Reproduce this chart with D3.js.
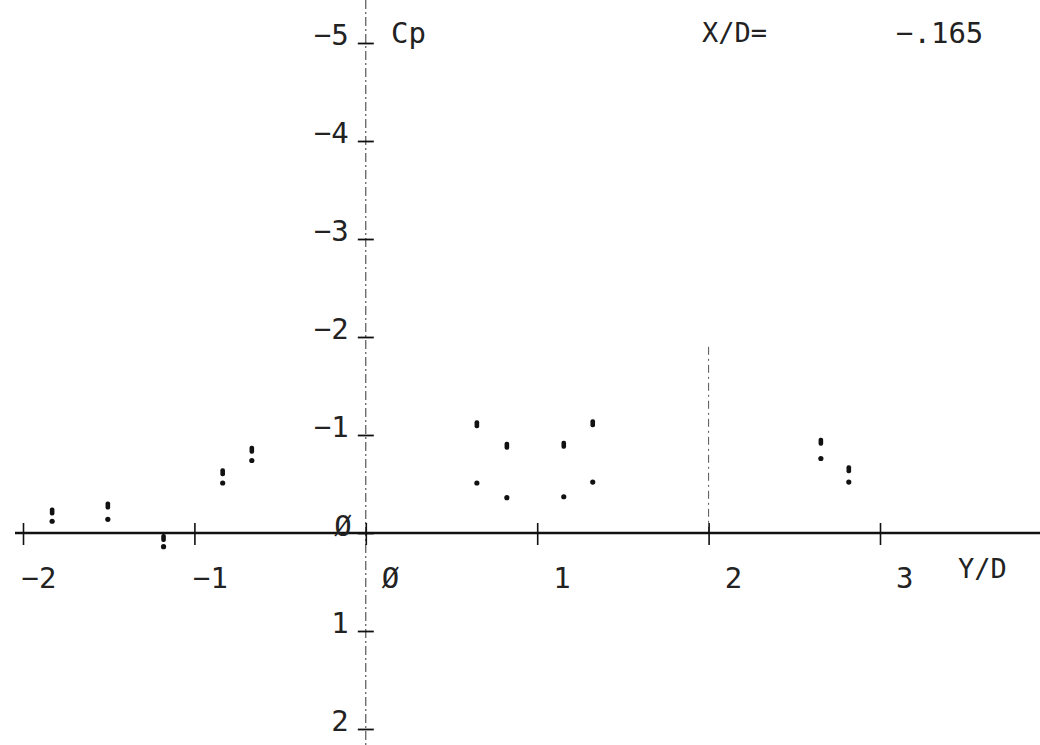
<!DOCTYPE html>
<html>
<head>
<meta charset="utf-8">
<script src="https://cdn.jsdelivr.net/npm/d3@7"></script>
<style>
  body { margin: 0; background: #fff; }
  text { font-family: "DejaVu Sans Mono", monospace; fill: #222; }
</style>
</head>
<body>
<div id="my_dataviz"></div>
<script>
// data
const yd = [-1.83, -1.505, -1.18, -0.835, -0.665, 0.648, 0.823, 1.155, 1.324, 2.655, 2.818];
const cpUpper = [-0.22, -0.28, 0.05, -0.62, -0.85, -1.11, -0.89, -0.90, -1.12, -0.93, -0.65];
const cpLower = [-0.12, -0.14, 0.14, -0.51, -0.74, -0.51, -0.36, -0.37, -0.52, -0.76, -0.52];
const xTicks = [-2, -1, 0, 1, 2, 3];
const yTicks = [-5, -4, -3, -2, -1, 0, 1, 2];
const refLine = {yd: 2, from: -1.9, to: 0};

const width = 1040, height = 745;

let svg = d3.select("#my_dataviz")
  .append("svg")
    .attr("width", width)
    .attr("height", height);

let x = d3.scaleLinear().domain([-2, 3]).range([23, 880]);
let y = d3.scaleLinear().domain([-5, 2]).range([43, 729]);

const fmt = d => d === 0 ? "\u00D8" : (d < 0 ? "\u2212" + Math.abs(d) : "" + d);

// vertical axis, dash-dot line over full height
svg.append("line")
  .attr("x1", x(0)).attr("x2", x(0))
  .attr("y1", 0).attr("y2", height)
  .style("stroke", "#333")
  .style("stroke-width", 1)
  .style("stroke-dasharray", "9,3,2,3");

// reference line at Y/D = 2
svg.append("line")
  .attr("x1", x(refLine.yd)).attr("x2", x(refLine.yd))
  .attr("y1", y(refLine.from)).attr("y2", y(refLine.to))
  .style("stroke", "#555")
  .style("stroke-width", 1)
  .style("stroke-dasharray", "8,4,2,4");

// horizontal axis
svg.append("line")
  .attr("x1", 15).attr("x2", width)
  .attr("y1", y(0)).attr("y2", y(0))
  .style("stroke", "#111")
  .style("stroke-width", 2.5);

let xAxis = d3.axisBottom(x).tickValues(xTicks).tickFormat(fmt).tickSizeOuter(0);
svg.append("g")
  .attr("class", "x-axis")
  .attr("transform", "translate(0," + y(0) + ")")
  .call(xAxis)
  .call(g => g.select(".domain").remove())
  .call(g => g.selectAll(".tick line")
      .attr("y1", -10).attr("y2", 12)
      .style("stroke", "#111").style("stroke-width", 1.6))
  .call(g => g.selectAll(".tick text")
      .attr("x", 33).attr("y", 55).attr("dy", null)
      .attr("text-anchor", "end")
      .style("font-size", "29px"));

let yAxis = d3.axisLeft(y).tickValues(yTicks).tickFormat(fmt).tickSizeOuter(0);
svg.append("g")
  .attr("class", "y-axis")
  .attr("transform", "translate(" + x(0) + ",0)")
  .call(yAxis)
  .call(g => g.select(".domain").remove())
  .call(g => g.selectAll(".tick line")
      .attr("x1", -8).attr("x2", 8)
      .style("stroke", "#111").style("stroke-width", 1.8))
  .call(g => g.selectAll(".tick text")
      .attr("x", d => d === 0 ? -14 : -17)
      .attr("y", d => d === 0 ? 2 : 1)
      .attr("dy", null)
      .attr("text-anchor", "end")
      .style("font-size", "29px"));

// points: upper marks and lower dots
let pts = yd.map((v, i) => ({yd: v, up: cpUpper[i], lo: cpLower[i]}));

svg.selectAll("rect.up")
  .data(pts)
  .enter()
  .append("rect")
  .attr("class", "up")
  .attr("x", d => x(d.yd) - 2.3)
  .attr("y", d => y(d.up) - 4)
  .attr("width", 4.6)
  .attr("height", 8)
  .attr("rx", 2)
  .style("fill", "#111");

svg.selectAll("circle.lo")
  .data(pts)
  .enter()
  .append("circle")
  .attr("class", "lo")
  .attr("cx", d => x(d.yd))
  .attr("cy", d => y(d.lo))
  .attr("r", 2.6)
  .style("fill", "#111");

// labels
svg.append("text").attr("x", 391).attr("y", 43).style("font-size", "29px").text("Cp");
svg.append("text").attr("x", 958).attr("y", 578).style("font-size", "27px").text("Y/D");
svg.append("text").attr("x", 702).attr("y", 42).style("font-size", "27px").text("X/D=");
svg.append("text").attr("x", 896).attr("y", 43).style("font-size", "29px").text("\u2212.165");
</script>
</body>
</html>
